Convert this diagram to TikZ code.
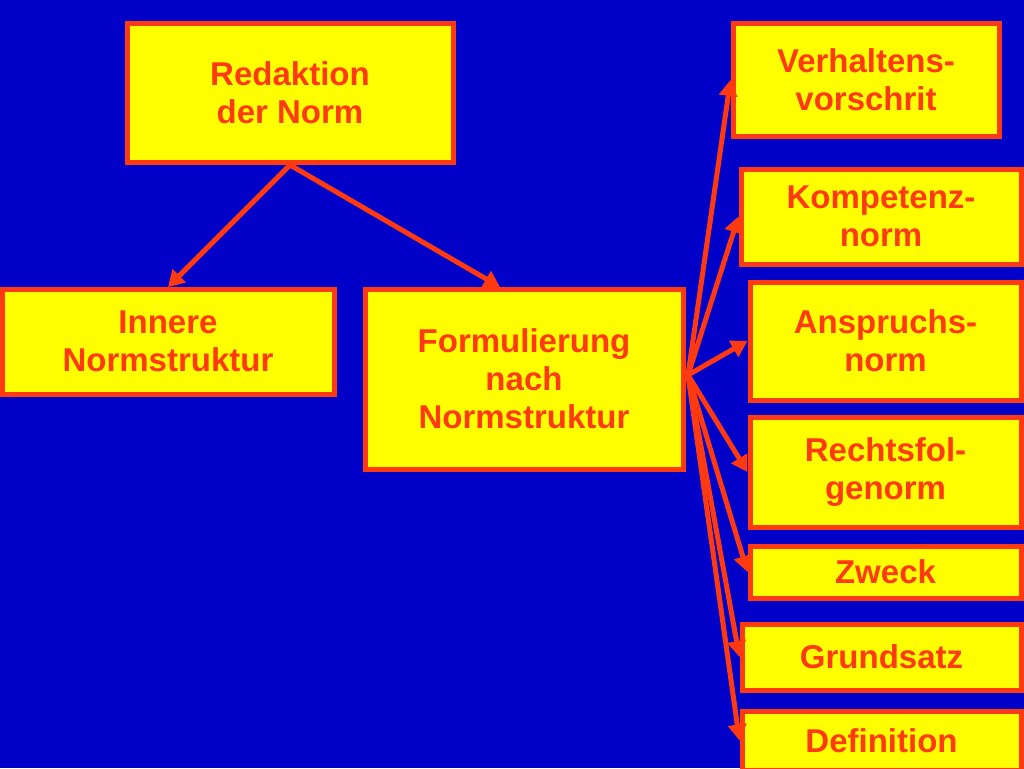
\documentclass[tikz,border=0pt]{standalone}
\usepackage{fontspec}
\setmainfont{Liberation Sans}
\usetikzlibrary{arrows.meta}
\definecolor{bg}{HTML}{0000C8}
\definecolor{rd}{HTML}{FF3A10}
\definecolor{yl}{HTML}{FFFF00}
\begin{document}
\begin{tikzpicture}[x=1pt,y=-1pt,
  box/.style={draw=rd,line width=5pt,fill=yl,text=rd,font=\fontsize{33}{38}\selectfont\bfseries,align=center,inner sep=0pt},
  arr/.style={draw=rd,line width=5pt,-{Triangle[length=16pt,width=18pt]}}]
\fill[bg] (0,0) rectangle (1024,768);
\useasboundingbox (0,0) rectangle (1024,768);
\newcommand{\bx}[6]{\node[box,minimum width=#4-#2,minimum height=#5-#3] (#1) at ({(#2+#4)/2},{(#3+#5)/2}) {#6};}
\bx{red}{127}{24}{453}{162}{Redaktion\\der Norm}
\bx{inn}{2}{289}{334}{394}{Innere\\Normstruktur}
\bx{for}{365}{289}{683}{469}{Formulierung\\nach\\Normstruktur}
\bx{v}{733}{24}{999}{136}{Verhaltens-\\vorschrit}
\bx{k}{741}{169}{1021}{264}{Kompetenz-\\norm}
\bx{a}{750}{282}{1021}{400}{Anspruchs-\\norm}
\bx{r}{750}{417}{1021}{527}{Rechtsfol-\\genorm}
\bx{z}{750}{546}{1021}{598}{Zweck}
\bx{g}{742}{624}{1021}{690}{Grundsatz}
\bx{d}{742}{711}{1021}{770}{Definition}
\coordinate (rs) at (290,165);
\coordinate (fs) at (688,375);
\draw[arr] (rs) -- (168,287);
\draw[arr] (rs) -- (500,287);
\draw[arr] (fs) -- (v.west);
\draw[arr] (fs) -- (k.west);
\draw[arr] (fs) -- (a.west);
\draw[arr] (fs) -- (r.west);
\draw[arr] (fs) -- (z.west);
\draw[arr] (fs) -- (g.west);
\draw[arr] (fs) -- (d.west);
\end{tikzpicture}
\end{document}
